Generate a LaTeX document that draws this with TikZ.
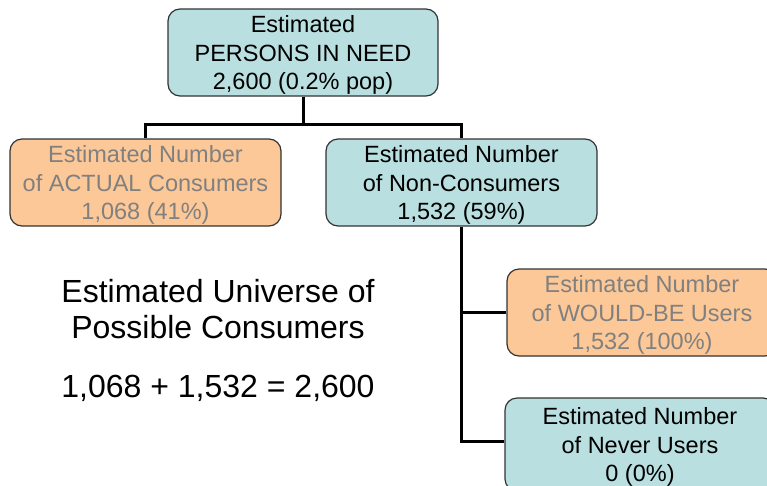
\documentclass[tikz,border=0pt]{standalone}
\usepackage{fontspec}
\setmainfont{Liberation Sans}
\definecolor{tealfill}{HTML}{B9DFE0}
\definecolor{orangefill}{HTML}{FDC897}
\definecolor{boxline}{HTML}{333333}
\definecolor{graytext}{HTML}{808080}
\begin{document}
\begin{tikzpicture}[x=1pt,y=-1pt,
  boxbase/.style={draw=boxline,line width=1.2pt,rounded corners=12pt,inner sep=0pt,
    align=center,font=\fontsize{23.5}{28.5}\selectfont,text depth=0pt},
  tealbox/.style={boxbase,fill=tealfill,text=black},
  orangebox/.style={boxbase,fill=orangefill,text=graytext},
  conn/.style={line width=3pt,black},
  bigtext/.style={anchor=base,inner sep=0pt,font=\fontsize{32}{38}\selectfont}]
\useasboundingbox (0,0) rectangle (767,485);
\clip (0,0) rectangle (767,485);
\fill[white] (0,0) rectangle (767,485);
\coordinate (topjoin) at (303,124.5);
\coordinate (lj) at (145.5,124.5);
\coordinate (rj) at (461.5,124.5);
\coordinate (wbj) at (461.5,312.5);
\coordinate (nvj) at (461.5,441.5);
% boxes
\node[tealbox,minimum width=270pt,minimum height=87pt] (need) at (303,52.5)
  {Estimated\\PERSONS IN NEED\\2,600 (0.2\% pop)};
\node[orangebox,minimum width=271pt,minimum height=87pt] (actual) at (145.5,182.5)
  {Estimated Number\\of ACTUAL Consumers\\1,068 (41\%)};
\node[tealbox,minimum width=271pt,minimum height=87pt] (non) at (461.5,182.5)
  {Estimated Number\\of Non-Consumers\\1,532 (59\%)};
\node[orangebox,minimum width=270pt,minimum height=87pt] (would) at (642,312.5)
  {Estimated Number\\of WOULD-BE Users\\1,532 (100\%)};
\node[tealbox,minimum width=270pt,minimum height=93pt] (never) at (640,444.5)
  {Estimated Number\\of Never Users\\0 (0\%)};
% connector lines
\draw[conn] (need.south) -- (topjoin);
\draw[conn] (actual.north) -- (lj) -- (rj) -- (non.north);
\draw[conn] (non.south) -- (nvj) -- (nvj -| never.west);
\draw[conn] (wbj) -- (would.west);
% free text
\node[bigtext] (u1) at (218,302) {Estimated Universe of};
\node[bigtext] (u2) at (218,338) {Possible Consumers};
\node[bigtext] (eq) at (218,397) {1,068 + 1,532 = 2,600};
\end{tikzpicture}
\end{document}
